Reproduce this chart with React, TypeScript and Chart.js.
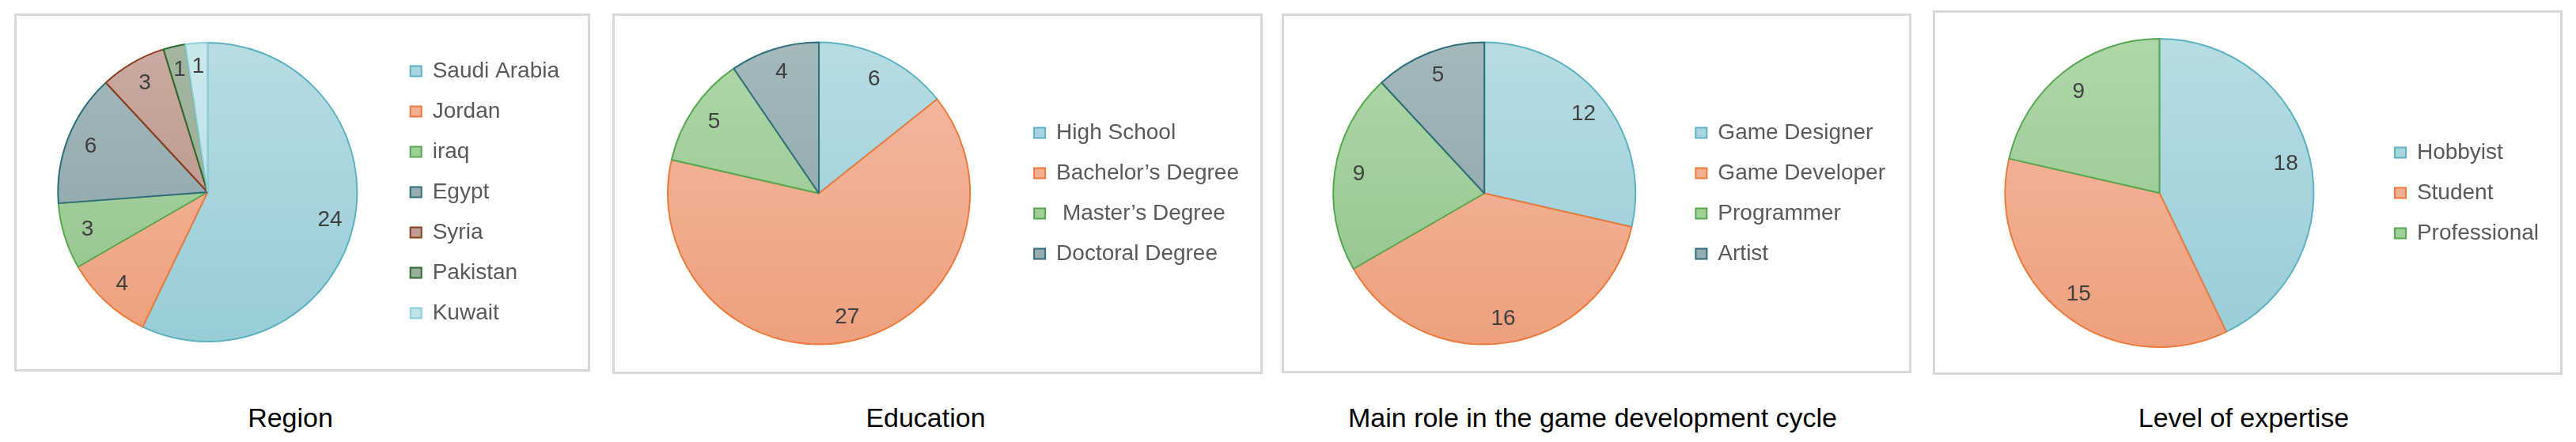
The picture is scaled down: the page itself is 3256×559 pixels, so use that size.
import React, { useEffect, useRef } from "react";
import { Chart, registerables } from "chart.js";

Chart.register(...registerables);

// ---------- data ----------
const regionLabels = ["Saudi Arabia", "Jordan", "iraq", "Egypt", "Syria", "Pakistan", "Kuwait"];
const regionValues = [24, 4, 3, 6, 3, 1, 1];

const educationLabels = ["High School", "Bachelor’s Degree", " Master’s Degree", "Doctoral Degree"];
const educationValues = [6, 27, 5, 4];

const roleLabels = ["Game Designer", "Game Developer", "Programmer", "Artist"];
const roleValues = [12, 16, 9, 5];

const expertiseLabels = ["Hobbyist", "Student", "Professional"];
const expertiseValues = [18, 15, 9];

const chartTitles = ["Region", "Education", "Main role in the game development cycle", "Level of expertise"];

// ---------- styles ----------
const sliceTop = ["#b6dde2", "#f5bba3", "#afd8a9", "#a5b9bd", "#caaaa2", "#a2b7a0", "#c9e8ec"];
const sliceBottom = ["#98cdd7", "#eea07e", "#91c38a", "#87a0a4", "#b48f84", "#91a98f", "#b7dfe5"];
const legendFill = ["#a8d6de", "#f2ae91", "#a0cf99", "#97adb1", "#bf9c93", "#9ab09a", "#c0e4e9"];
const sliceBorder = ["#5cb2c2", "#ec7a3b", "#56a84f", "#2e6e7c", "#8c3d1b", "#2d6a2e", "#8ccfd9"];

const FONT = "'Liberation Sans', Arial, Helvetica, sans-serif";
const LEGEND_FONT_SIZE = 28;
const LEGEND_PAD = 23;
const BOX_W = 14;
const BOX_H = 13;

type Panel = {
  labels: string[];
  values: number[];
  box: { left: number; top: number; width: number; height: number };
  padLeft: number;
  padTop: number;
  padBottom: number;
  legendBoxX: number; // x of legend marker inside the canvas
  radius: number;
  titleX: number;
};

const panels: Panel[] = [
  {
    labels: regionLabels,
    values: regionValues,
    box: { left: 18, top: 17, width: 728, height: 453 },
    padLeft: 11,
    padTop: 10,
    padBottom: 11,
    legendBoxX: 498,
    radius: 189,
    titleX: 367,
  },
  {
    labels: educationLabels,
    values: educationValues,
    box: { left: 774, top: 17, width: 822, height: 456 },
    padLeft: 12,
    padTop: 10,
    padBottom: 11,
    legendBoxX: 531,
    radius: 191,
    titleX: 1170,
  },
  {
    labels: roleLabels,
    values: roleValues,
    box: { left: 1620, top: 17, width: 796, height: 455 },
    padLeft: 12,
    padTop: 10,
    padBottom: 10,
    legendBoxX: 521,
    radius: 191,
    titleX: 2013,
  },
  {
    labels: expertiseLabels,
    values: expertiseValues,
    box: { left: 2443, top: 13, width: 796, height: 461 },
    padLeft: 12,
    padTop: 11,
    padBottom: 10,
    legendBoxX: 581,
    radius: 195,
    titleX: 2836,
  },
];

const valueLabelPlugin = {
  id: "valueLabels",
  afterDatasetsDraw(chart: any) {
    const ctx = chart.ctx;
    const meta = chart.getDatasetMeta(0);
    const values = chart.data.datasets[0].data;
    ctx.save();
    ctx.font = `28px ${FONT}`;
    ctx.fillStyle = "#404040";
    ctx.textAlign = "center";
    ctx.textBaseline = "middle";
    meta.data.forEach((arc: any, i: number) => {
      const { x, y, startAngle, endAngle, outerRadius } = arc.getProps(
        ["x", "y", "startAngle", "endAngle", "outerRadius"],
        true
      );
      const mid = (startAngle + endAngle) / 2;
      const r = outerRadius * 0.84;
      ctx.fillText(String(values[i]), x + Math.cos(mid) * r, y + Math.sin(mid) * r);
    });
    ctx.restore();
  },
};

function legendNaturalWidth(labels: string[]): number {
  const c = document.createElement("canvas");
  const ctx = c.getContext("2d")!;
  ctx.font = `normal ${LEGEND_FONT_SIZE}px ${FONT}`;
  let maxW = 0;
  for (const t of labels) maxW = Math.max(maxW, ctx.measureText(t).width);
  return LEGEND_PAD + BOX_W + LEGEND_FONT_SIZE / 2 + maxW + 10;
}

function PieCard({ panel }: { panel: Panel }) {
  const ref = useRef<HTMLCanvasElement | null>(null);
  useEffect(() => {
    if (!ref.current) return;
    const R = panel.radius;
    const W = panel.box.width;
    const legendW = Math.ceil(legendNaturalWidth(panel.labels)) + 2;
    const legendLeft = panel.legendBoxX - LEGEND_PAD;
    const padRight = Math.max(0, W - legendLeft - legendW);
    // keep pie centre: centre x = (padLeft + legendLeft) / 2
    const chart = new Chart(ref.current, {
      type: "pie",
      data: {
        labels: panel.labels,
        datasets: [
          {
            data: panel.values,
            backgroundColor: (c: any) => {
              const i = c.dataIndex ?? 0;
              const area = c.chart.chartArea;
              if (!area) return sliceTop[i];
              const cy = (area.top + area.bottom) / 2;
              const g = c.chart.ctx.createLinearGradient(0, cy - R, 0, cy + R);
              g.addColorStop(0, sliceTop[i]);
              g.addColorStop(1, sliceBottom[i]);
              return g;
            },
            borderColor: sliceBorder.slice(0, panel.values.length),
            borderWidth: 2,
          },
        ],
      },
      options: {
        responsive: false,
        animation: false,
        devicePixelRatio: 1,
        radius: R,
        layout: {
          padding: { left: panel.padLeft, right: padRight, top: panel.padTop, bottom: panel.padBottom },
        },
        plugins: {
          tooltip: { enabled: false },
          title: { display: false },
          legend: {
            display: true,
            position: "right",
            align: "center",
            maxWidth: legendW,
            labels: {
              boxWidth: BOX_W,
              boxHeight: BOX_H,
              padding: LEGEND_PAD,
              color: "#595959",
              font: { size: LEGEND_FONT_SIZE, family: FONT },
              generateLabels: (ch: any) =>
                ch.data.labels.map((t: string, i: number) => ({
                  text: t,
                  fillStyle: legendFill[i],
                  strokeStyle: sliceBorder[i],
                  lineWidth: 2,
                  fontColor: "#595959",
                  hidden: false,
                  index: i,
                })),
            },
          },
        },
      } as any,
      plugins: [valueLabelPlugin],
    });
    return () => chart.destroy();
  }, [panel]);

  const { left, top, width, height } = panel.box;
  return (
    <>
      <div
        style={{
          position: "absolute",
          left,
          top,
          width,
          height,
          boxSizing: "border-box",
          border: "3px solid #d9d9d9",
          background: "#fff",
        }}
      />
      <canvas
        ref={ref}
        width={width}
        height={height}
        style={{ position: "absolute", left, top, width, height }}
      />
    </>
  );
}

export default function App() {
  return (
    <div
      style={{
        position: "absolute",
        left: 0,
        top: 0,
        width: 3256,
        height: 559,
        background: "#fff",
        overflow: "hidden",
        fontFamily: FONT,
      }}
    >
      {panels.map((p, i) => (
        <PieCard key={i} panel={p} />
      ))}
      {panels.map((p, i) => (
        <div
          key={"t" + i}
          style={{
            position: "absolute",
            left: p.titleX - 400,
            width: 800,
            top: 511,
            textAlign: "center",
            fontSize: 34,
            lineHeight: "34px",
            color: "#000",
            whiteSpace: "nowrap",
          }}
        >
          {chartTitles[i]}
        </div>
      ))}
    </div>
  );
}
